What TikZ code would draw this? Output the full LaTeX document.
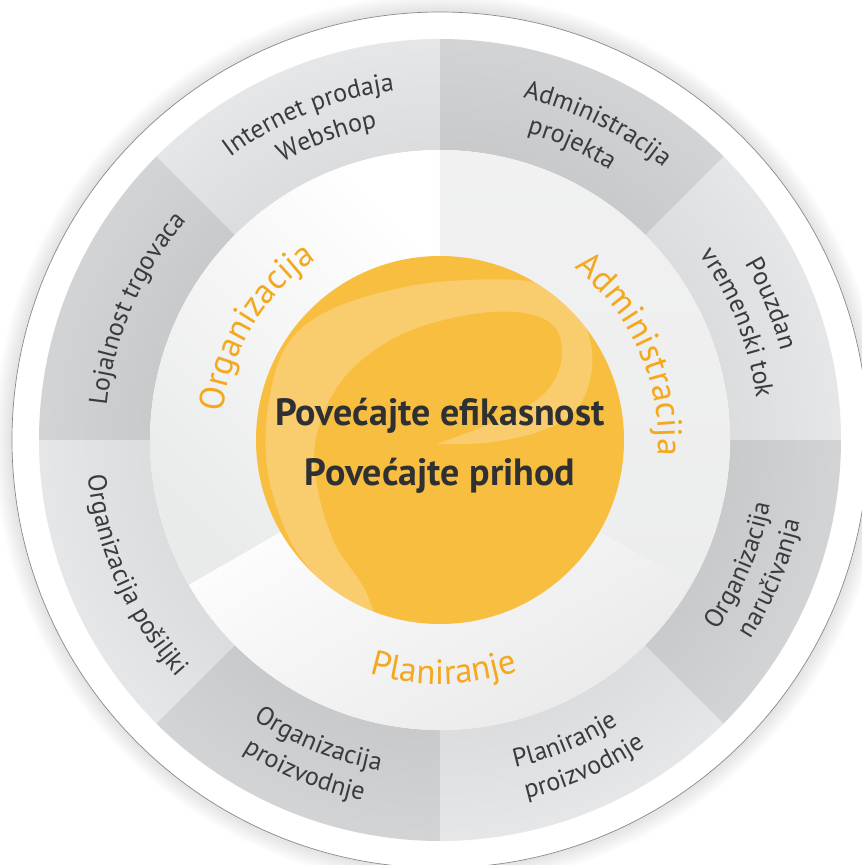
\documentclass[tikz,border=0pt]{standalone}
\usepackage{fontspec}
\setmainfont{PT Sans}
\usetikzlibrary{decorations.text}
\definecolor{ringdark}{HTML}{D3D4D6}
\definecolor{ringlight}{HTML}{E6E7E8}
\definecolor{secgray}{HTML}{E9EAEA}
\definecolor{secadmtop}{HTML}{F1F1F1}
\definecolor{secadmbot}{HTML}{ECEDED}
\definecolor{secplan}{HTML}{E8E8E8}
\definecolor{orangefill}{HTML}{F8BE40}
\definecolor{orangetext}{HTML}{F5A81E}
\definecolor{graytext}{HTML}{3A3B3D}
\definecolor{centertext}{HTML}{2E3033}
\definecolor{rimline}{HTML}{8A8A8A}
\newcommand\grayfont{\fontsize{26pt}{30pt}\selectfont}
\newcommand\orangefont{\fontsize{35pt}{40pt}\selectfont}
% clockwise arc text (letters point outward)
\newcommand\cwlabel[5]{\path[decorate,decoration={text along path,text align=center,text color=#4,text={|#3|#5}}] ({#2+75}:#1pt) arc[start angle={#2+75},end angle={#2-75},radius=#1pt];}
% counter-clockwise arc text (letters point inward)
\newcommand\ccwlabel[5]{\path[decorate,decoration={text along path,text align=center,text color=#4,text={|#3|#5}}] ({#2-75}:#1pt) arc[start angle={#2-75},end angle={#2+75},radius=#1pt];}
\tikzset{
  centerline/.style={font=\bfseries\fontsize{38pt}{46pt}\selectfont, text=centertext, anchor=base, inner sep=0pt},
}
\begin{document}
\begin{tikzpicture}[x=1pt,y=1pt]
\useasboundingbox (-440,-425) rectangle (422,440);
\fill[white] (-440,-425) rectangle (422,440);
% soft shadow
\foreach \i in {1,...,14} {\fill[black,opacity=0.009] (0,0) circle[radius={428pt+\i*1.3pt}];}
% outer white disc with thin rim
\fill[white] (0,0) circle[radius=428pt];
\draw[rimline, line width=0.7pt] (0,0) circle[radius=428pt];
% gray ring segments
\foreach \a/\c in {0/ringlight,45/ringdark,90/ringlight,135/ringdark,180/ringlight,225/ringdark,270/ringlight,315/ringdark}
  \fill[\c] (\a:290pt) arc[start angle=\a, end angle={\a+45}, radius=290pt] -- ({\a+45}:401pt) arc[start angle={\a+45}, end angle=\a, radius=401pt] -- cycle;
% subtle radial darkening toward the inner edge of the ring
\foreach \k in {1,...,10}
  \fill[black, opacity=0.005, even odd rule] (0,0) circle[radius={290pt+\k*11pt}] (0,0) circle[radius=290pt];
% inner sectors
\shade[top color=white, bottom color=secgray, shading angle=-45] (0,0) -- (90:290pt) arc[start angle=90,end angle=210,radius=290pt] -- cycle;
\shade[top color=secadmtop, bottom color=secadmbot] (0,0) -- (-30:290pt) arc[start angle=-30,end angle=90,radius=290pt] -- cycle;
\shade[top color=white, bottom color=secplan, shading angle=30] (0,0) -- (210:290pt) arc[start angle=210,end angle=330,radius=290pt] -- cycle;
% orange disc
\fill[orangefill] (0,0) circle[radius=184pt];
\begin{scope}
  \clip (0,0) circle[radius=184pt];
  \fill[white, opacity=0.24]
    plot[smooth, tension=0.6] coordinates {(-95,-200) (-115,-150) (-150,-100) (-172,-33) (-172,33) (-153,95) (-110,130) (-40,152) (27,160) (93,158) (130,140) (150,100) (150,60) (133,27) (95,7) (43,-3) (-3,-4)}
    -- plot[smooth, tension=0.6] coordinates {(43,13) (97,40) (120,73) (117,110) (85,127) (27,125) (-40,105) (-92,67) (-120,17) (-125,-33) (-107,-100) (-75,-150) (-57,-200)}
    -- cycle;
\end{scope}
% centre text
\node[centerline] (line1) at (0,15) {Povećajte efikasnost};
\node[centerline] (line2) at (0,-45) {Povećajte prihod};
% orange labels
\cwlabel{219}{148.5}{\orangefont}{orangetext}{Organizacija}
\cwlabel{218}{24}{\orangefont}{orangetext}{Administracija}
\ccwlabel{244}{-89}{\orangefont}{orangetext}{Planiranje}
% gray labels
\cwlabel{352}{112}{\grayfont}{graytext}{Internet prodaja}
\cwlabel{319}{110.5}{\grayfont}{graytext}{Webshop}
\cwlabel{352}{63.5}{\grayfont}{graytext}{Administracija}
\cwlabel{319}{66}{\grayfont}{graytext}{projekta}
\cwlabel{352}{22.4}{\grayfont}{graytext}{Pouzdan}
\cwlabel{319}{21.5}{\grayfont}{graytext}{vremenski tok}
\ccwlabel{336}{-22.7}{\grayfont}{graytext}{Organizacija}
\ccwlabel{369}{-22.7}{\grayfont}{graytext}{naručivanja}
\ccwlabel{336}{-67.5}{\grayfont}{graytext}{Planiranje}
\ccwlabel{369}{-66.3}{\grayfont}{graytext}{proizvodnje}
\ccwlabel{336}{-112}{\grayfont}{graytext}{Organizacija}
\ccwlabel{369}{-112.2}{\grayfont}{graytext}{proizvodnje}
\ccwlabel{354}{204}{\grayfont}{graytext}{Organizacija pošiljki}
\cwlabel{335}{156.6}{\grayfont}{graytext}{Lojalnost trgovaca}
\end{tikzpicture}
\end{document}
